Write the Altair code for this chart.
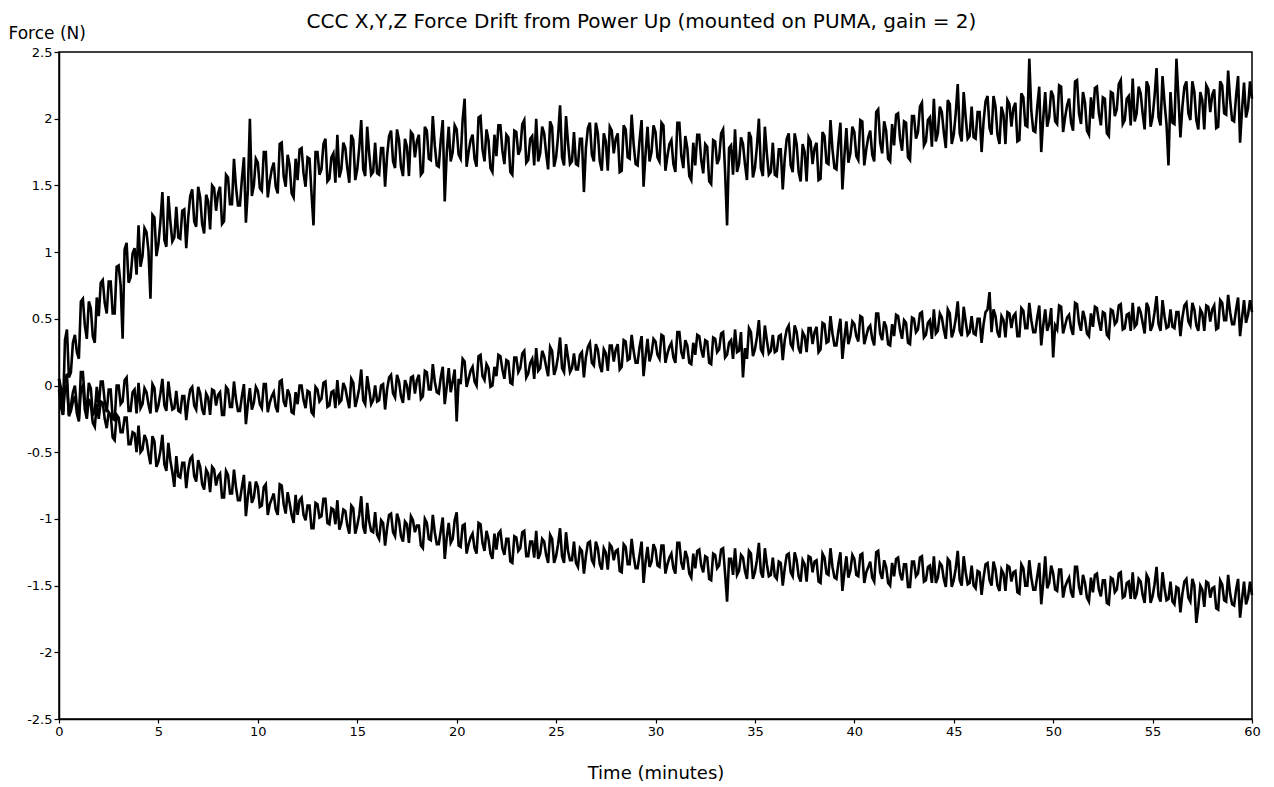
import altair as alt
import pandas as pd

# Sample times (minutes): readings on the even 0.2-min grid and the odd in-between samples
time_even = [round(0.2 * i, 1) for i in range(301)]
time_odd = [round(0.1 + 0.2 * i, 1) for i in range(300)]

# Upper trace, samples at 0, 0.2, 0.4 ... 60
force_upper = [
    0.05, -0.20, 0.42, 0.10, 0.38, 0.20, 0.65, 0.35, 0.58, 0.32,
    0.52, 0.79, 0.54, 0.78, 0.54, 0.90, 0.35, 1.07, 0.81, 1.03,
    1.20, 0.97, 1.15, 0.65, 1.26, 1.06, 1.45, 1.04, 1.23, 1.11,
    1.11, 1.31, 1.03, 1.42, 1.23, 1.49, 1.21, 1.43, 1.17, 1.48,
    1.44, 1.21, 1.58, 1.36, 1.70, 1.35, 1.55, 1.22, 2.00, 1.50,
    1.67, 1.46, 1.75, 1.53, 1.67, 1.44, 1.82, 1.49, 1.65, 1.41,
    1.54, 1.78, 1.49, 1.70, 1.20, 1.75, 1.62, 1.85, 1.55, 1.74,
    1.88, 1.62, 1.78, 1.52, 1.84, 1.62, 1.99, 1.57, 1.74, 1.60,
    1.59, 1.78, 1.49, 1.87, 1.68, 1.92, 1.64, 1.85, 1.57, 1.88,
    1.83, 1.58, 1.94, 1.70, 2.02, 1.65, 1.84, 1.38, 1.94, 1.75,
    1.92, 1.70, 2.15, 1.75, 1.88, 1.64, 2.02, 1.68, 1.84, 1.60,
    1.72, 1.95, 1.66, 1.86, 1.58, 1.90, 1.77, 1.99, 1.69, 1.87,
    2.00, 1.74, 1.89, 1.62, 1.94, 1.71, 2.10, 1.65, 1.82, 1.68,
    1.66, 1.85, 1.45, 1.93, 1.73, 1.97, 1.68, 1.89, 1.61, 1.91,
    1.85, 1.60, 1.95, 1.71, 2.03, 1.66, 1.84, 1.49, 1.94, 1.75,
    1.90, 1.68, 1.95, 1.72, 1.84, 1.60, 1.97, 1.63, 1.78, 1.54,
    1.65, 1.88, 1.59, 1.79, 1.51, 1.83, 1.70, 1.92, 1.20, 1.80,
    1.92, 1.66, 1.81, 1.54, 1.86, 1.63, 2.00, 1.57, 1.74, 1.60,
    1.58, 1.77, 1.47, 1.85, 1.65, 1.89, 1.60, 1.81, 1.53, 1.83,
    1.78, 1.54, 1.90, 1.67, 1.99, 1.63, 1.82, 1.47, 1.93, 1.74,
    1.90, 1.69, 1.98, 1.77, 1.91, 1.68, 2.07, 1.74, 1.91, 1.68,
    1.80, 2.04, 1.76, 1.97, 1.69, 2.02, 1.90, 2.12, 1.83, 2.01,
    2.15, 1.89, 2.05, 1.78, 2.11, 1.88, 2.26, 1.83, 2.01, 1.87,
    1.86, 2.05, 1.75, 2.13, 1.93, 2.17, 1.88, 2.09, 1.81, 2.11,
    2.08, 1.83, 2.19, 1.95, 2.45, 1.91, 2.09, 1.75, 2.20, 2.01,
    2.17, 1.96, 2.24, 2.01, 2.15, 1.91, 2.29, 1.96, 2.12, 1.88,
    2.00, 2.24, 1.95, 2.15, 1.87, 2.19, 2.07, 2.29, 1.99, 2.17,
    2.30, 2.04, 2.19, 1.92, 2.24, 2.01, 2.38, 1.95, 2.12, 1.65,
    1.97, 2.45, 1.86, 2.24, 2.04, 2.28, 1.99, 2.20, 1.92, 2.22,
    2.18, 1.93, 2.28, 2.04, 2.36, 1.99, 2.17, 1.82, 2.27, 2.08,
    2.15,
]
# Upper trace, samples at 0.1, 0.3 ... 59.9
force_upper_odd = [
    -0.02, 0.34, 0.06, 0.32, 0.25, 0.63, 0.45, 0.63, 0.37, 0.66,
    0.77, 0.62, 0.78, 0.54, 0.89, 0.75, 1.02, 0.77, 0.99, 0.83,
    0.89, 1.18, 1.01, 1.28, 0.97, 1.23, 1.09, 1.42, 1.08, 1.34,
    1.10, 1.32, 1.26, 1.47, 1.19, 1.41, 1.14, 1.38, 1.50, 1.31,
    1.49, 1.23, 1.56, 1.36, 1.49, 1.35, 1.71, 1.47, 1.42, 1.70,
    1.48, 1.75, 1.41, 1.62, 1.49, 1.81, 1.57, 1.73, 1.44, 1.70,
    1.77, 1.59, 1.71, 1.44, 1.75, 1.58, 1.81, 1.53, 1.71, 1.52,
    1.56, 1.82, 1.63, 1.88, 1.54, 1.78, 1.62, 1.94, 1.58, 1.82,
    1.58, 1.78, 1.72, 1.91, 1.63, 1.84, 1.57, 1.79, 1.90, 1.71,
    1.88, 1.60, 1.91, 1.69, 1.80, 1.64, 1.99, 1.74, 1.68, 1.95,
    1.73, 1.99, 1.64, 1.84, 1.70, 2.01, 1.77, 1.92, 1.63, 1.88,
    1.95, 1.76, 1.88, 1.60, 1.91, 1.73, 1.96, 1.67, 1.85, 1.65,
    1.68, 1.94, 1.74, 1.98, 1.64, 1.87, 1.71, 2.02, 1.66, 1.90,
    1.65, 1.85, 1.78, 1.97, 1.68, 1.89, 1.61, 1.83, 1.94, 1.74,
    1.89, 1.61, 1.92, 1.70, 1.81, 1.65, 1.99, 1.74, 1.68, 1.95,
    1.71, 1.97, 1.61, 1.81, 1.66, 1.97, 1.72, 1.87, 1.57, 1.82,
    1.88, 1.69, 1.81, 1.53, 1.84, 1.66, 1.89, 1.60, 1.78, 1.58,
    1.60, 1.86, 1.66, 1.90, 1.56, 1.79, 1.63, 1.94, 1.58, 1.82,
    1.57, 1.77, 1.70, 1.89, 1.60, 1.81, 1.53, 1.75, 1.86, 1.66,
    1.82, 1.55, 1.87, 1.66, 1.77, 1.62, 1.97, 1.72, 1.67, 1.94,
    1.72, 1.99, 1.65, 1.86, 1.73, 2.05, 1.82, 1.98, 1.70, 1.96,
    2.03, 1.85, 1.98, 1.71, 2.02, 1.85, 2.09, 1.80, 1.99, 1.79,
    1.83, 2.09, 1.90, 2.14, 1.81, 2.04, 1.89, 2.20, 1.85, 2.09,
    1.85, 2.05, 1.98, 2.17, 1.88, 2.09, 1.81, 2.03, 2.14, 1.94,
    2.12, 1.84, 2.16, 1.94, 2.06, 1.90, 2.24, 2.00, 1.94, 2.21,
    1.98, 2.25, 1.90, 2.10, 1.97, 2.28, 2.04, 2.20, 1.91, 2.16,
    2.23, 2.04, 2.16, 1.89, 2.20, 2.02, 2.26, 1.96, 2.15, 1.95,
    1.98, 2.24, 2.04, 2.28, 1.94, 2.17, 2.01, 2.32, 1.96, 2.20,
    1.96, 2.16, 2.09, 2.28, 1.99, 2.20, 1.92, 2.14, 2.25, 2.05,
    2.22, 1.94, 2.25, 2.03, 2.14, 1.98, 2.32, 2.07, 2.01, 2.28,
]

# Middle trace, even samples
force_middle = [
    0.05, -0.22, 0.08, -0.15, 0.00, -0.25, 0.10, -0.18, -0.02, -0.20,
    -0.16, 0.03, -0.20, -0.03, -0.26, 0.00, -0.12, 0.06, -0.19, -0.03,
    0.02, -0.14, -0.05, -0.21, -0.02, -0.15, 0.05, -0.19, -0.09, -0.17,
    -0.19, -0.08, -0.26, -0.03, -0.15, -0.01, -0.18, -0.06, -0.22, -0.04,
    -0.07, -0.22, -0.01, -0.16, 0.03, -0.19, -0.08, -0.29, -0.02, -0.13,
    -0.04, -0.17, 0.01, -0.13, -0.05, -0.20, 0.04, -0.16, -0.07, -0.21,
    -0.14, 0.00, -0.17, -0.05, -0.22, -0.03, -0.10, 0.03, -0.15, -0.04,
    0.04, -0.11, -0.02, -0.17, 0.02, -0.10, 0.12, -0.14, -0.03, -0.11,
    -0.12, 0.00, -0.18, 0.06, -0.06, 0.08, -0.08, 0.04, -0.11, 0.07,
    0.04, -0.10, 0.11, -0.03, 0.16, -0.05, 0.06, -0.14, 0.13, 0.03,
    -0.27, 0.01, 0.18, 0.05, 0.14, 0.00, 0.23, 0.04, 0.13, 0.00,
    0.07, 0.22, 0.05, 0.18, 0.01, 0.21, 0.13, 0.26, 0.09, 0.20,
    0.28, 0.13, 0.22, 0.07, 0.26, 0.13, 0.36, 0.10, 0.21, 0.13,
    0.12, 0.23, 0.06, 0.29, 0.17, 0.31, 0.15, 0.27, 0.11, 0.30,
    0.27, 0.12, 0.34, 0.19, 0.38, 0.17, 0.29, 0.07, 0.35, 0.24,
    0.33, 0.20, 0.37, 0.24, 0.32, 0.17, 0.40, 0.20, 0.30, 0.16,
    0.23, 0.37, 0.21, 0.33, 0.16, 0.35, 0.27, 0.40, 0.23, 0.34,
    0.42, 0.26, 0.06, 0.20, 0.40, 0.27, 0.49, 0.24, 0.34, 0.26,
    0.25, 0.37, 0.19, 0.42, 0.31, 0.45, 0.28, 0.40, 0.25, 0.43,
    0.40, 0.25, 0.47, 0.32, 0.52, 0.30, 0.41, 0.20, 0.48, 0.37,
    0.46, 0.33, 0.51, 0.37, 0.45, 0.30, 0.54, 0.34, 0.44, 0.30,
    0.37, 0.52, 0.35, 0.47, 0.31, 0.50, 0.42, 0.55, 0.38, 0.49,
    0.57, 0.41, 0.51, 0.35, 0.54, 0.41, 0.63, 0.37, 0.48, 0.40,
    0.39, 0.50, 0.32, 0.55, 0.70, 0.57, 0.40, 0.52, 0.36, 0.54,
    0.52, 0.37, 0.58, 0.43, 0.62, 0.40, 0.51, 0.30, 0.57, 0.46,
    0.21, 0.42, 0.59, 0.45, 0.53, 0.38, 0.61, 0.41, 0.50, 0.37,
    0.44, 0.58, 0.41, 0.54, 0.36, 0.56, 0.48, 0.61, 0.43, 0.54,
    0.62, 0.46, 0.55, 0.39, 0.58, 0.45, 0.67, 0.41, 0.52, 0.44,
    0.44, 0.55, 0.37, 0.60, 0.48, 0.62, 0.45, 0.57, 0.41, 0.59,
    0.57, 0.42, 0.64, 0.49, 0.68, 0.46, 0.57, 0.37, 0.64, 0.53,
    0.55,
]
# Middle trace, odd samples
force_middle_odd = [
    -0.14, 0.07, -0.22, -0.05, -0.16, 0.10, -0.11, 0.02, -0.22, -0.01,
    0.03, -0.12, -0.03, -0.25, 0.00, -0.14, 0.04, -0.19, -0.05, -0.21,
    -0.17, -0.02, -0.14, 0.01, -0.20, -0.06, -0.15, 0.03, -0.18, -0.04,
    -0.20, -0.08, -0.12, -0.01, -0.18, -0.06, -0.22, -0.09, -0.03, -0.15,
    -0.05, -0.22, -0.03, -0.16, -0.10, -0.19, 0.01, -0.14, -0.18, -0.01,
    -0.14, 0.01, -0.20, -0.08, -0.16, 0.03, -0.12, -0.03, -0.20, -0.05,
    0.00, -0.11, -0.04, -0.20, -0.01, -0.12, 0.02, -0.16, -0.05, -0.17,
    -0.13, 0.02, -0.10, 0.05, -0.16, -0.02, -0.11, 0.07, -0.14, 0.00,
    -0.11, 0.01, -0.03, 0.08, -0.09, 0.03, -0.13, 0.00, 0.06, -0.06,
    0.08, -0.08, 0.10, -0.03, 0.03, -0.06, 0.14, -0.01, -0.05, 0.12,
    0.05, 0.20, -0.01, 0.11, 0.03, 0.22, 0.07, 0.16, -0.01, 0.14,
    0.23, 0.12, 0.19, 0.02, 0.21, 0.10, 0.24, 0.06, 0.17, 0.05,
    0.11, 0.26, 0.14, 0.29, 0.08, 0.22, 0.13, 0.31, 0.10, 0.24,
    0.12, 0.25, 0.21, 0.32, 0.15, 0.27, 0.10, 0.24, 0.30, 0.18,
    0.31, 0.14, 0.33, 0.20, 0.26, 0.17, 0.37, 0.22, 0.18, 0.35,
    0.23, 0.38, 0.17, 0.29, 0.21, 0.40, 0.25, 0.34, 0.17, 0.32,
    0.38, 0.27, 0.34, 0.17, 0.36, 0.25, 0.39, 0.21, 0.32, 0.20,
    0.25, 0.40, 0.28, 0.43, 0.22, 0.36, 0.27, 0.45, 0.24, 0.38,
    0.26, 0.38, 0.34, 0.45, 0.28, 0.40, 0.24, 0.37, 0.43, 0.31,
    0.44, 0.27, 0.46, 0.33, 0.39, 0.30, 0.50, 0.35, 0.31, 0.48,
    0.37, 0.52, 0.31, 0.43, 0.35, 0.54, 0.39, 0.48, 0.31, 0.46,
    0.53, 0.42, 0.49, 0.32, 0.51, 0.40, 0.54, 0.36, 0.47, 0.35,
    0.39, 0.54, 0.42, 0.57, 0.36, 0.50, 0.41, 0.59, 0.38, 0.52,
    0.38, 0.50, 0.46, 0.57, 0.40, 0.52, 0.36, 0.49, 0.55, 0.43,
    0.54, 0.37, 0.56, 0.43, 0.49, 0.40, 0.60, 0.45, 0.41, 0.58,
    0.45, 0.60, 0.39, 0.51, 0.43, 0.62, 0.47, 0.56, 0.39, 0.54,
    0.59, 0.48, 0.55, 0.38, 0.57, 0.46, 0.60, 0.42, 0.53, 0.41,
    0.44, 0.59, 0.47, 0.62, 0.41, 0.55, 0.46, 0.64, 0.43, 0.57,
    0.43, 0.55, 0.51, 0.62, 0.45, 0.57, 0.41, 0.54, 0.60, 0.48,
    0.60, 0.43, 0.62, 0.49, 0.55, 0.46, 0.66, 0.51, 0.47, 0.64,
]

# Lower trace, even samples
force_lower = [
    -0.03, -0.22, 0.00, -0.19, -0.08, -0.27, 0.00, -0.25, -0.14, -0.31,
    -0.25, -0.13, -0.32, -0.22, -0.41, -0.24, -0.35, -0.24, -0.44, -0.36,
    -0.30, -0.48, -0.41, -0.59, -0.42, -0.57, -0.37, -0.64, -0.56, -0.76,
    -0.68, -0.58, -0.77, -0.55, -0.68, -0.56, -0.74, -0.63, -0.80, -0.63,
    -0.68, -0.84, -0.64, -0.81, -0.63, -0.86, -0.76, -0.98, -0.72, -0.84,
    -0.76, -0.90, -0.74, -0.89, -0.81, -0.97, -0.75, -0.96, -0.88, -1.03,
    -0.97, -0.84, -1.01, -0.90, -1.07, -0.89, -0.98, -0.85, -1.04, -0.93,
    -0.86, -1.03, -0.94, -1.11, -0.92, -1.05, -0.83, -1.11, -1.02, -1.10,
    -1.12, -1.01, -1.20, -0.97, -1.10, -0.96, -1.13, -1.02, -1.18, -1.01,
    -1.05, -1.20, -1.00, -1.15, -0.97, -1.19, -1.09, -1.30, -1.03, -1.15,
    -0.95, -1.21, -1.04, -1.19, -1.11, -1.26, -1.04, -1.24, -1.15, -1.30,
    -1.23, -1.09, -1.27, -1.15, -1.33, -1.14, -1.22, -1.09, -1.28, -1.17,
    -1.09, -1.26, -1.17, -1.33, -1.15, -1.28, -1.07, -1.33, -1.24, -1.31,
    -1.33, -1.22, -1.41, -1.18, -1.31, -1.17, -1.34, -1.22, -1.38, -1.21,
    -1.24, -1.39, -1.19, -1.34, -1.15, -1.37, -1.27, -1.48, -1.21, -1.32,
    -1.23, -1.36, -1.20, -1.34, -1.26, -1.41, -1.18, -1.38, -1.29, -1.44,
    -1.37, -1.23, -1.40, -1.29, -1.46, -1.27, -1.35, -1.22, -1.62, -1.30,
    -1.22, -1.39, -1.29, -1.45, -1.26, -1.40, -1.18, -1.44, -1.34, -1.42,
    -1.43, -1.32, -1.50, -1.27, -1.40, -1.25, -1.43, -1.31, -1.47, -1.29,
    -1.32, -1.47, -1.26, -1.41, -1.22, -1.44, -1.33, -1.54, -1.28, -1.39,
    -1.30, -1.43, -1.26, -1.40, -1.32, -1.47, -1.24, -1.45, -1.36, -1.50,
    -1.43, -1.29, -1.46, -1.34, -1.51, -1.32, -1.41, -1.28, -1.46, -1.35,
    -1.28, -1.44, -1.35, -1.51, -1.32, -1.46, -1.24, -1.50, -1.40, -1.48,
    -1.50, -1.39, -1.57, -1.34, -1.46, -1.32, -1.50, -1.38, -1.54, -1.36,
    -1.40, -1.55, -1.34, -1.50, -1.31, -1.53, -1.43, -1.64, -1.28, -1.48,
    -1.41, -1.54, -1.38, -1.51, -1.44, -1.59, -1.36, -1.57, -1.48, -1.62,
    -1.55, -1.41, -1.58, -1.46, -1.64, -1.45, -1.53, -1.40, -1.58, -1.47,
    -1.40, -1.56, -1.47, -1.63, -1.45, -1.58, -1.36, -1.62, -1.52, -1.60,
    -1.62, -1.51, -1.70, -1.47, -1.59, -1.45, -1.78, -1.50, -1.66, -1.48,
    -1.52, -1.67, -1.46, -1.61, -1.42, -1.64, -1.53, -1.74, -1.47, -1.59,
    -1.57,
]
# Lower trace, odd samples
force_lower_odd = [
    -0.16, -0.02, -0.23, -0.12, -0.21, -0.03, -0.18, -0.10, -0.28, -0.14,
    -0.12, -0.25, -0.20, -0.39, -0.22, -0.35, -0.24, -0.44, -0.35, -0.50,
    -0.50, -0.37, -0.51, -0.38, -0.61, -0.49, -0.59, -0.43, -0.65, -0.53,
    -0.69, -0.58, -0.63, -0.53, -0.72, -0.61, -0.78, -0.66, -0.61, -0.75,
    -0.66, -0.84, -0.67, -0.81, -0.76, -0.86, -0.67, -0.83, -0.88, -0.72,
    -0.91, -0.76, -0.97, -0.85, -0.93, -0.74, -0.89, -0.80, -0.97, -0.82,
    -0.86, -0.97, -0.90, -1.07, -0.88, -0.99, -0.85, -1.03, -0.92, -1.04,
    -1.08, -0.93, -1.05, -0.90, -1.11, -0.97, -1.06, -0.88, -1.09, -0.95,
    -1.15, -1.03, -1.07, -0.96, -1.13, -1.01, -1.17, -1.04, -0.98, -1.10,
    -1.05, -1.22, -1.03, -1.16, -1.10, -1.19, -0.99, -1.14, -1.18, -1.01,
    -1.20, -1.05, -1.26, -1.14, -1.22, -1.03, -1.18, -1.09, -1.26, -1.11,
    -1.11, -1.22, -1.15, -1.32, -1.13, -1.24, -1.10, -1.28, -1.17, -1.29,
    -1.30, -1.15, -1.27, -1.12, -1.33, -1.19, -1.28, -1.10, -1.31, -1.17,
    -1.36, -1.24, -1.28, -1.17, -1.34, -1.22, -1.38, -1.25, -1.19, -1.31,
    -1.23, -1.40, -1.21, -1.34, -1.28, -1.37, -1.17, -1.32, -1.36, -1.19,
    -1.35, -1.20, -1.41, -1.29, -1.37, -1.18, -1.33, -1.24, -1.41, -1.26,
    -1.24, -1.35, -1.28, -1.45, -1.26, -1.37, -1.23, -1.41, -1.30, -1.42,
    -1.42, -1.27, -1.39, -1.24, -1.45, -1.31, -1.40, -1.22, -1.43, -1.29,
    -1.45, -1.33, -1.37, -1.26, -1.43, -1.31, -1.47, -1.34, -1.28, -1.40,
    -1.31, -1.48, -1.29, -1.42, -1.36, -1.45, -1.25, -1.40, -1.44, -1.27,
    -1.42, -1.27, -1.48, -1.36, -1.44, -1.25, -1.40, -1.31, -1.48, -1.33,
    -1.30, -1.41, -1.34, -1.51, -1.32, -1.43, -1.29, -1.47, -1.36, -1.48,
    -1.48, -1.33, -1.45, -1.30, -1.51, -1.37, -1.46, -1.28, -1.49, -1.35,
    -1.52, -1.40, -1.44, -1.33, -1.50, -1.38, -1.54, -1.41, -1.35, -1.47,
    -1.39, -1.56, -1.37, -1.50, -1.44, -1.53, -1.33, -1.48, -1.52, -1.35,
    -1.53, -1.38, -1.59, -1.47, -1.55, -1.36, -1.51, -1.42, -1.59, -1.44,
    -1.42, -1.53, -1.46, -1.63, -1.44, -1.55, -1.41, -1.59, -1.48, -1.60,
    -1.60, -1.45, -1.57, -1.42, -1.63, -1.49, -1.58, -1.40, -1.61, -1.47,
    -1.64, -1.52, -1.56, -1.45, -1.62, -1.50, -1.66, -1.53, -1.47, -1.59,
    -1.51, -1.68, -1.49, -1.62, -1.56, -1.65, -1.45, -1.60, -1.64, -1.47,
]

series_names = ["upper", "middle", "lower"]
x_ticks = [0, 5, 10, 15, 20, 25, 30, 35, 40, 45, 50, 55, 60]
y_ticks = [-2.5, -2, -1.5, -1, -0.5, 0, 0.5, 1, 1.5, 2, 2.5]

rows = []
for name, ev, od in zip(series_names,
                        [force_upper, force_middle, force_lower],
                        [force_upper_odd, force_middle_odd, force_lower_odd]):
    for t, v in zip(time_even, ev):
        rows.append({"series": name, "t": t, "f": v})
    for t, v in zip(time_odd, od):
        rows.append({"series": name, "t": t, "f": v})
df = pd.DataFrame(rows).sort_values(["series", "t"]).reset_index(drop=True)

FONT = "DejaVu Sans"

chart = alt.Chart(df).mark_line(strokeWidth=2.6, color="black", strokeJoin="miter").encode(
    x=alt.X("t:Q",
            scale=alt.Scale(domain=[0, 60], nice=False, zero=False),
            axis=alt.Axis(values=x_ticks, title="Time (minutes)", grid=False,
                          tickSize=4, labelPadding=2, labelFontSize=13,
                          labelFont=FONT, titleFont=FONT, titleFontSize=18,
                          titleFontWeight="normal", titleY=54, titleBaseline="middle",
                          labelFlush=False, labelExpr="'' + datum.value")),
    y=alt.Y("f:Q",
            scale=alt.Scale(domain=[-2.5, 2.5], nice=False, zero=False),
            axis=alt.Axis(values=y_ticks, title="Force (N)", grid=False,
                          tickSize=5, labelPadding=2, labelFontSize=13,
                          labelFont=FONT, titleFont=FONT, titleFontSize=17,
                          titleFontWeight="normal", titleAngle=0, titleAlign="left",
                          titleBaseline="middle", titleX=-51, titleY=-19,
                          labelFlush=False, labelExpr="'' + datum.value")),
    detail="series:N",
    order="t:Q",
).properties(
    width=1193,
    height=667,
    title=alt.TitleParams(
        "CCC X,Y,Z Force Drift from Power Up (mounted on PUMA, gain = 2)",
        font=FONT, fontSize=20, fontWeight="normal", anchor="middle",
        baseline="alphabetic", offset=0, dy=24, dx=-14, color="black",
    ),
    autosize=alt.AutoSizeParams(type="none"),
    padding={"left": 59, "top": 52, "right": 22, "bottom": 68},
).configure_view(
    stroke="black", strokeWidth=1.5
).configure_axis(
    domainColor="black", domainWidth=1.5, tickColor="black", tickWidth=1.2,
    labelColor="black", titleColor="black"
)

chart.save("out.html", embed_options={"renderer": "svg", "actions": False})
